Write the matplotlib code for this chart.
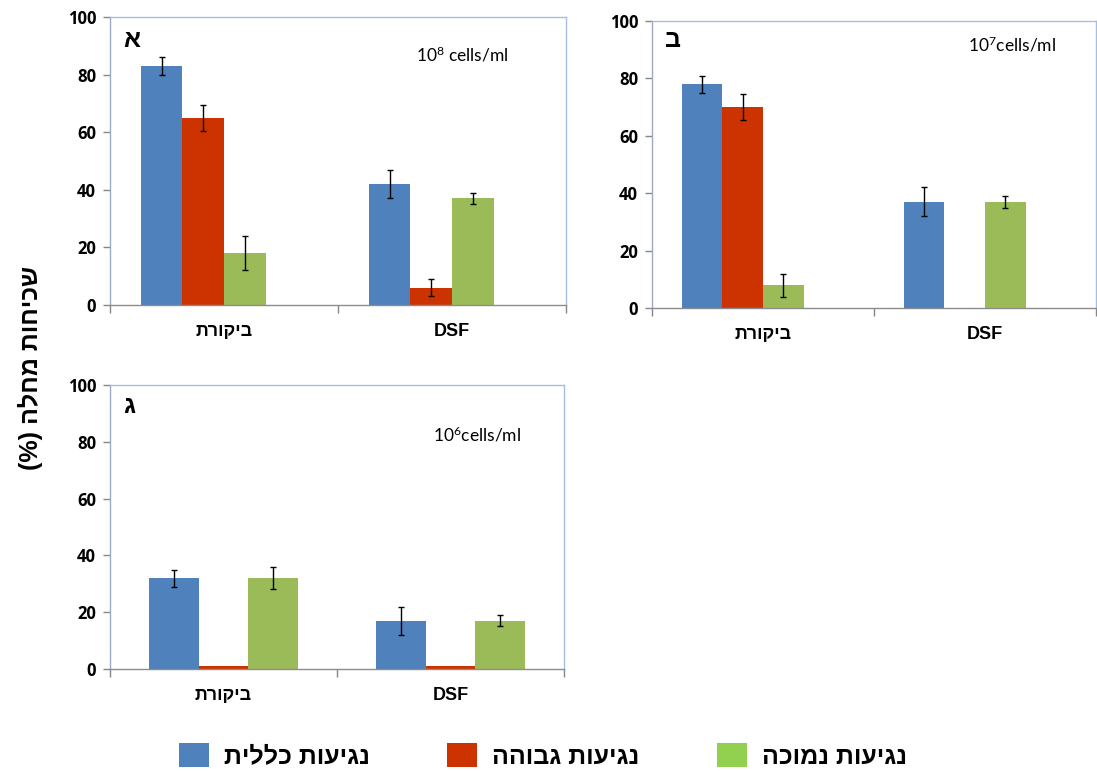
import matplotlib
matplotlib.use("Agg")
import matplotlib.pyplot as plt
from matplotlib.patches import Patch
import numpy as np

plt.rcParams['mathtext.fontset'] = 'custom'
plt.rcParams['mathtext.rm'] = 'Lato'
plt.rcParams['mathtext.it'] = 'Lato:italic'
plt.rcParams['mathtext.bf'] = 'Lato:bold'

HEB = ['Liberation Sans', 'DejaVu Sans']
NUM = ['Open Sans', 'DejaVu Sans']
ANN = ['Lato', 'DejaVu Sans']

categories = ["ביקורת", "DSF"]
series_names = ["נגיעות כללית", "נגיעות גבוהה", "נגיעות נמוכה"]
bar_colors = ["#4F81BD", "#CC3300", "#9BBB59"]
legend_colors = ["#4F81BD", "#CC3300", "#92D050"]
y_ticks = [0, 20, 40, 60, 80, 100]

# panel א : 10^8 cells/ml  (rows = series, columns = categories)
a_values = [[83, 42], [65, 6], [18, 37]]
a_errors = [[3, 5], [4.5, 3], [6, 2]]
# panel ב : 10^7 cells/ml
b_values = [[78, 37], [70, 0], [8, 37]]
b_errors = [[3, 5], [4.5, 0], [4, 2]]
# panel ג : 10^6 cells/ml
c_values = [[32, 17], [1, 1], [32, 17]]
c_errors = [[3, 5], [0, 0], [4, 2]]


def rtl(s):
    """Visual order for right-to-left text (matplotlib has no bidi)."""
    if not any('\u0590' <= ch <= '\u05FF' for ch in s):
        return s
    return s[::-1].translate(str.maketrans('()', ')('))


def draw_panel(ax, values, errors, n_slots, letter, exponent, ann_xy, letter_y):
    x = np.arange(len(categories))
    w = 0.73 / n_slots if n_slots == 4 else 0.66 / n_slots
    for i, (vals, errs) in enumerate(zip(values, errors)):
        pos = x + (i - (n_slots - 1) / 2) * w
        ax.bar(pos, vals, width=w, color=bar_colors[i], edgecolor='none', zorder=2)
        for p, v, e in zip(pos, vals, errs):
            if e > 0:
                ax.errorbar(p, v, yerr=e, fmt='none', ecolor='black',
                            elinewidth=1, capsize=2.5, capthick=1, zorder=3)
    ax.set_xlim(-0.5, len(categories) - 0.5)
    ax.set_ylim(0, 100)
    ax.set_yticks(y_ticks)
    ax.set_yticklabels([str(t) for t in y_ticks], fontfamily=NUM,
                       fontweight='bold', fontsize=12)
    ax.tick_params(axis='y', direction='out', length=5, width=1,
                   color='#868686', pad=5)
    ax.set_xticks(np.arange(len(categories) + 1) - 0.5)
    ax.set_xticklabels([])
    ax.tick_params(axis='x', which='major', direction='out', length=6,
                   width=1, color='#868686')
    ax.set_xticks(x, minor=True)
    ax.set_xticklabels([rtl(c) for c in categories], minor=True,
                       fontfamily=HEB, fontweight='bold', fontsize=13)
    ax.tick_params(axis='x', which='minor', length=0, pad=13)
    ax.spines['left'].set_color('#9AAAC4')
    ax.spines['bottom'].set_color('#8C8C8C')
    for side in ('top', 'right'):
        ax.spines[side].set_color('#A7BFDE')
    for side in ax.spines:
        ax.spines[side].set_linewidth(1)
    ax.text(0.03, letter_y, letter, transform=ax.transAxes, fontfamily=HEB,
            fontweight='bold', fontsize=18, ha='left', va='center')
    ax.text(ann_xy[0], ann_xy[1], exponent, transform=ax.transAxes,
            fontfamily=ANN, fontsize=12.5, ha='left', va='center')


W, H = 1097, 771
fig = plt.figure(figsize=(W / 100, H / 100), dpi=100)


def rect(l, r, t, b):
    return [l / W, 1 - b / H, (r - l) / W, (b - t) / H]


ax_a = fig.add_axes(rect(110, 566, 17, 305))
ax_b = fig.add_axes(rect(652, 1096, 21, 308))
ax_c = fig.add_axes(rect(110, 564, 385, 669))

draw_panel(ax_a, a_values, a_errors, 4, "א", r"10$^{8}$ cells/ml", (0.67, 0.868), 0.92)
draw_panel(ax_b, b_values, b_errors, 4, "ב", r"10$^{7}$cells/ml", (0.712, 0.916), 0.934)
draw_panel(ax_c, c_values, c_errors, 3, "ג", r"10$^{6}$cells/ml", (0.712, 0.824), 0.926)

fig.text(30 / W, 1 - 368 / H, rtl("שכיחות מחלה (%)"), rotation=90,
         fontfamily=HEB, fontweight='bold', fontsize=18, ha='center', va='center')

handles = [Patch(facecolor=c, edgecolor='none') for c in legend_colors]
leg = fig.legend(handles, [rtl(s) for s in series_names], loc='center',
                 bbox_to_anchor=(543 / W, 1 - 756 / H), ncol=3, frameon=False,
                 prop={'family': HEB, 'weight': 'bold', 'size': 18},
                 handlelength=1.2, handleheight=1.05, handletextpad=0.6,
                 columnspacing=3.1)

fig.savefig("out.png", dpi=100)
